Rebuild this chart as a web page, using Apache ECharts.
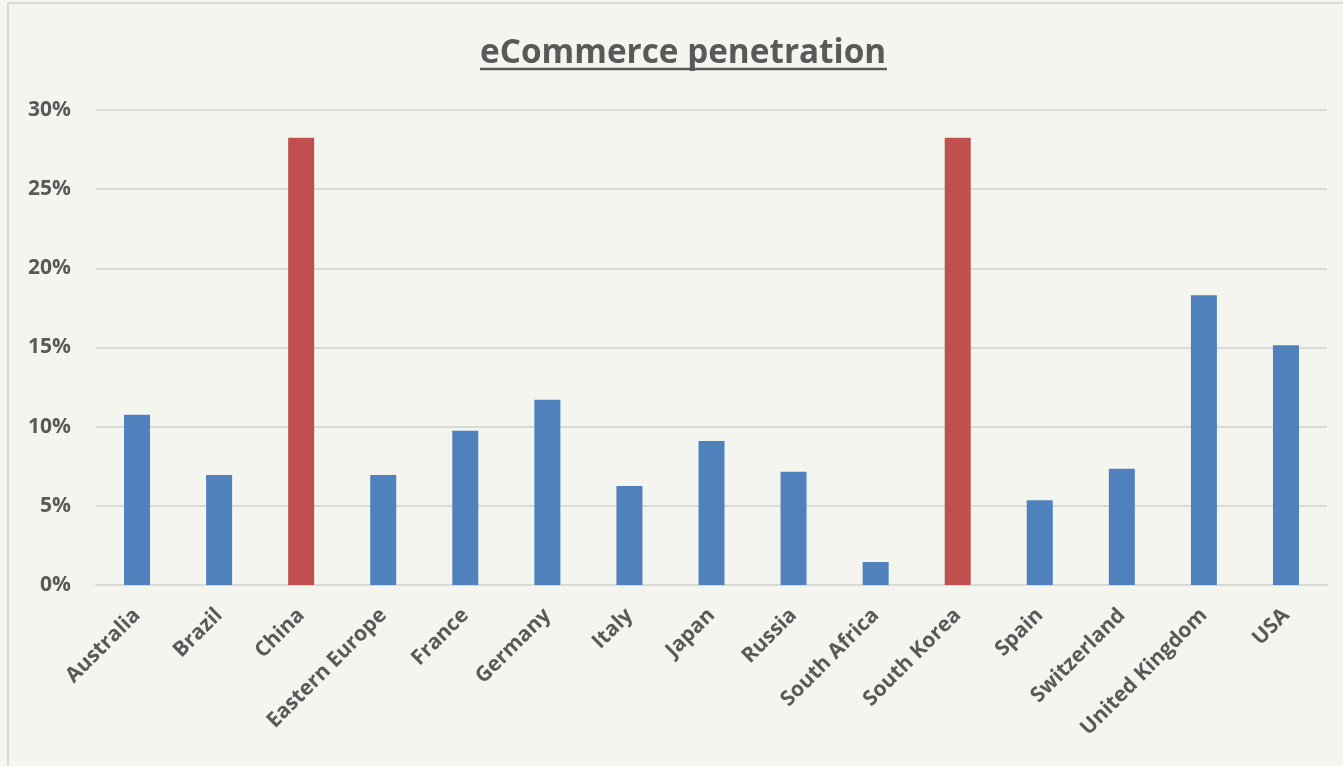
<!DOCTYPE html>
<html><head><meta charset="utf-8">
<script src="https://cdn.jsdelivr.net/npm/echarts@6/dist/echarts.min.js"></script>
<style>html,body{margin:0;padding:0;background:#f5f5f0;}#c{width:1343px;height:766px;}</style>
</head><body><div id="c"></div>
<script>
const categories = ['Australia','Brazil','China','Eastern Europe','France','Germany','Italy','Japan','Russia','South Africa','South Korea','Spain','Switzerland','United Kingdom','USA'];
const values = [10.75, 6.95, 28.25, 6.95, 9.75, 11.7, 6.25, 9.1, 7.15, 1.45, 28.25, 5.35, 7.35, 18.3, 15.15];
const highlighted = ['China','South Korea'];
const yTicks = [0, 5, 10, 15, 20, 25, 30];
const titleText = 'eCommerce penetration';

const chart = echarts.init(document.getElementById('c'));
chart.setOption({
  backgroundColor: '#f5f5f0',
  title: {text: titleText, left: 475, top: 32, textStyle: {fontFamily: 'Open Sans', fontWeight: 'bold', fontSize: 33.3, color: '#595959'}},
  graphic: [
    {type: 'rect', shape: {x: 8, y: 3, width: 1340, height: 770}, style: {fill: 'none', stroke: '#d9d9d9', lineWidth: 2}, silent: true},
    {type: 'line', shape: {x1: 480, y1: 69, x2: 887, y2: 69}, style: {stroke: '#595959', lineWidth: 2.5}, silent: true}
  ],
  grid: {left: 96, right: 16, top: 110, bottom: 181},
  xAxis: {
    type: 'category', data: categories,
    axisLine: {lineStyle: {color: '#d9d9d9', width: 2}},
    axisTick: {show: false},
    axisLabel: {rotate: 45, interval: 0, fontFamily: 'Open Sans', fontWeight: 'bold', fontSize: 21, color: '#595959', margin: 27}
  },
  yAxis: {
    type: 'value', min: yTicks[0], max: yTicks[yTicks.length-1], interval: 5,
    axisLine: {show: false}, axisTick: {show: false},
    splitLine: {lineStyle: {color: '#d9d9d9', width: 2}},
    axisLabel: {formatter: '{value}%', fontFamily: 'Open Sans', fontWeight: 'bold', fontSize: 21, color: '#595959', margin: 25}
  },
  series: [{
    type: 'bar', barWidth: 26,
    data: values.map((v, i) => ({value: v, itemStyle: {color: highlighted.includes(categories[i]) ? '#c0504d' : '#4f81bd'}})),
    animation: false
  }],
  animation: false
});
</script></body></html>
